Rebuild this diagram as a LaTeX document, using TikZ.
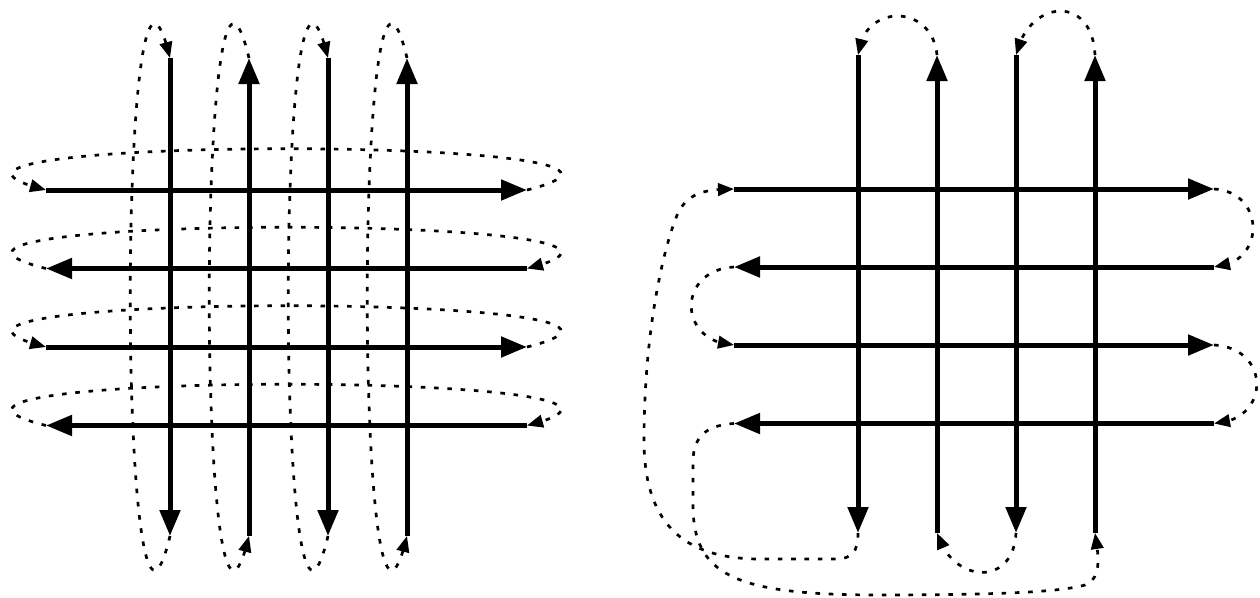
\documentclass[tikz,border=0pt]{standalone}
\usetikzlibrary{arrows.meta,bending}
\begin{document}
\begin{tikzpicture}[x=1pt,y=-1pt,
  mainarrow/.style={line width=5pt,-{Triangle[length=26pt,width=20pt]}},
  looparrow/.style={line width=2.7pt,dash pattern=on 4.6pt off 8.7pt,-{Triangle[length=16pt,width=12.5pt,flex]}}]
\useasboundingbox (0,0) rectangle (1260,597);
% ---------- left diagram ----------
\foreach \n/\x in {1/170,2/249,3/328,4/407}{
  \coordinate (Lv\n-t) at (\x,58);
  \coordinate (Lv\n-b) at (\x,536);
}
\foreach \n/\y in {1/190,2/268.5,3/347,4/425.5}{
  \coordinate (Lh\n-l) at (46,\y);
  \coordinate (Lh\n-r) at (527,\y);
}
\draw[looparrow] (Lv1-b) .. controls +(-53,220) and +(-53,-220) .. (Lv1-t);
\draw[looparrow] (Lv2-t) .. controls +(-53,-220) and +(-53,220) .. (Lv2-b);
\draw[looparrow] (Lv3-b) .. controls +(-53,220) and +(-53,-220) .. (Lv3-t);
\draw[looparrow] (Lv4-t) .. controls +(-53,-220) and +(-53,220) .. (Lv4-b);
\draw[looparrow] (Lh1-r) .. controls +(220,-55) and +(-220,-55) .. (Lh1-l);
\draw[looparrow] (Lh2-l) .. controls +(-220,-55) and +(220,-55) .. (Lh2-r);
\draw[looparrow] (Lh3-r) .. controls +(220,-55) and +(-220,-55) .. (Lh3-l);
\draw[looparrow] (Lh4-l) .. controls +(-220,-55) and +(220,-55) .. (Lh4-r);
\draw[mainarrow] (Lv1-t) -- (Lv1-b);
\draw[mainarrow] (Lv2-b) -- (Lv2-t);
\draw[mainarrow] (Lv3-t) -- (Lv3-b);
\draw[mainarrow] (Lv4-b) -- (Lv4-t);
\draw[mainarrow] (Lh1-l) -- (Lh1-r);
\draw[mainarrow] (Lh2-r) -- (Lh2-l);
\draw[mainarrow] (Lh3-l) -- (Lh3-r);
\draw[mainarrow] (Lh4-r) -- (Lh4-l);
% ---------- right diagram ----------
\foreach \n/\x in {1/858,2/937,3/1016,4/1095}{
  \coordinate (Rv\n-t) at (\x,55);
  \coordinate (Rv\n-b) at (\x,533);
}
\foreach \n/\y in {1/189,2/267,3/345,4/423.5}{
  \coordinate (Rh\n-l) at (734,\y);
  \coordinate (Rh\n-r) at (1214,\y);
}
\draw[looparrow] (Rv2-t) .. controls +(-5,-52) and +(5,-52) .. (Rv1-t);
\draw[looparrow] (Rv4-t) .. controls +(-3,-62) and +(12,-55) .. (Rv3-t);
\draw[looparrow] (Rv3-b) .. controls +(-3,55) and +(15,50) .. (Rv2-b);
\draw[looparrow] (Rh1-r) .. controls +(52,3) and +(52,-3) .. (Rh2-r);
\draw[looparrow] (Rh2-l) .. controls +(-57,3) and +(-57,-3) .. (Rh3-l);
\draw[looparrow] (Rh3-r) .. controls +(57,3) and +(57,-3) .. (Rh4-r);
\draw[looparrow] (Rh4-l) .. controls (712,425) and (693,432) .. (693,462) -- (693,505)
  .. controls (693,575) and (735,594) .. (870,595)
  .. controls (1000,595) and (1060,592) .. (1085,585)
  .. controls (1100,579) and (1100,562) .. (Rv4-b);
\draw[looparrow] (Rv1-b) .. controls (858,552) and (852,559) .. (835,559) -- (760,559)
  .. controls (680,559) and (644,520) .. (644,440)
  .. controls (644,330) and (664,245) .. (678,213)
  .. controls (688,193) and (705,189) .. (Rh1-l);
\draw[mainarrow] (Rv1-t) -- (Rv1-b);
\draw[mainarrow] (Rv2-b) -- (Rv2-t);
\draw[mainarrow] (Rv3-t) -- (Rv3-b);
\draw[mainarrow] (Rv4-b) -- (Rv4-t);
\draw[mainarrow] (Rh1-l) -- (Rh1-r);
\draw[mainarrow] (Rh2-r) -- (Rh2-l);
\draw[mainarrow] (Rh3-l) -- (Rh3-r);
\draw[mainarrow] (Rh4-r) -- (Rh4-l);
\end{tikzpicture}
\end{document}
